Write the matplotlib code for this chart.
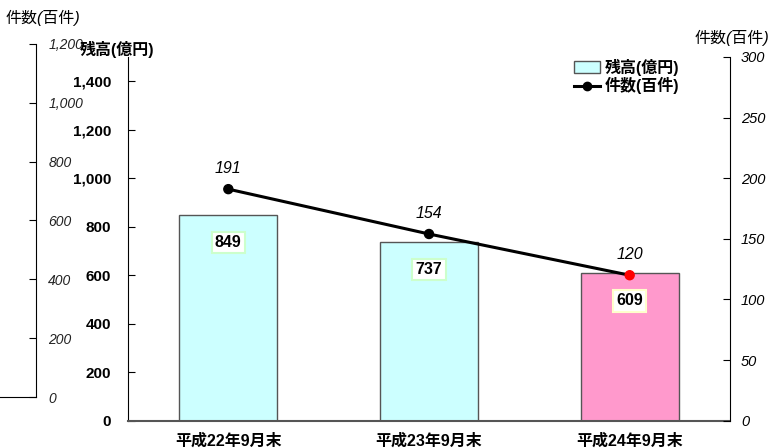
import matplotlib
matplotlib.use("Agg")
import matplotlib.pyplot as plt
from matplotlib.patches import Patch
from matplotlib.lines import Line2D
from matplotlib.ticker import FuncFormatter

plt.rcParams['font.family'] = ['Liberation Sans', 'Noto Sans CJK JP', 'DejaVu Sans']

categories = ['平成22年9月末', '平成23年9月末', '平成24年9月末']
balance = [849, 737, 609]          # 残高(億円)
counts = [191, 154, 120]           # 件数(百件)
bar_colors = ['#CCFFFF', '#CCFFFF', '#FF99CC']
box_edges = ['#CCFFCC', '#CCFFCC', '#FFFFCC']
point_colors = ['black', 'black', 'red']

W, H = 776, 448
fig = plt.figure(figsize=(W / 100, H / 100), dpi=100)

def fx(px):
    return px / W

def fy(py):
    return 1 - py / H

comma = FuncFormatter(lambda v, p: f'{v:,.0f}')

# main axes
ax = fig.add_axes([fx(128), fy(420.7), fx(730) - fx(128), fy(57) - fy(420.7)])
x = list(range(len(categories)))
ax.bar(x, balance, width=0.49, color=bar_colors, edgecolor='#555555', linewidth=1)
ax.set_xlim(-0.5, 2.5)
ax.set_ylim(0, 1500)
ax.set_yticks(range(0, 1401, 200))
ax.yaxis.set_major_formatter(comma)
ax.tick_params(axis='y', direction='in', length=5, pad=12, labelsize=11)
for t in ax.get_yticklabels():
    t.set_fontweight('bold')
ax.set_xticks(x)
ax.set_xticklabels(categories, fontweight='bold', fontsize=11.5)
ax.tick_params(axis='x', length=0, pad=9)
ax.spines['top'].set_visible(False)
ax.spines['right'].set_visible(False)
ax.spines['bottom'].set_color('#555555')
ax.spines['bottom'].set_linewidth(1.5)

for i, v in enumerate(balance):
    ax.annotate(f'{v}', (i, v), xytext=(0, -20), textcoords='offset points',
                ha='center', va='center', fontsize=11.5, fontweight='bold',
                bbox=dict(boxstyle='square,pad=0.2', facecolor='white',
                          edgecolor=box_edges[i], linewidth=1.5))

# count axis (right)
ax2 = ax.twinx()
ax2.set_ylim(0, 300)
ax2.set_yticks(range(0, 301, 50))
ax2.plot(x, counts, color='black', linewidth=2.2, zorder=3)
ax2.scatter(x, counts, color=point_colors, s=42, zorder=4)
for i, v in enumerate(counts):
    ax2.annotate(f'{v}', (i, v), xytext=(0, 15), textcoords='offset points',
                 ha='center', va='center', fontsize=11.5, style='italic')
ax2.tick_params(axis='y', direction='in', length=5, pad=8, labelsize=10.5)
for t in ax2.get_yticklabels():
    t.set_fontstyle('italic')
ax2.spines['top'].set_visible(False)
ax2.spines['left'].set_visible(False)
ax2.spines['bottom'].set_visible(False)

# outer count axis (left)
ax3 = fig.add_axes([0, fy(397), fx(35.7), fy(44) - fy(397)])
ax3.set_ylim(0, 1200)
ax3.set_yticks(range(0, 1201, 200))
ax3.yaxis.set_major_formatter(comma)
ax3.yaxis.tick_right()
ax3.set_xticks([])
ax3.tick_params(axis='y', direction='in', length=5, pad=9, labelsize=10, labelcolor='#222222')
for t in ax3.get_yticklabels():
    t.set_fontstyle('italic')
ax3.spines['top'].set_visible(False)
ax3.spines['left'].set_visible(False)
ax3.patch.set_visible(False)

# axis titles
fig.text(fx(6), fy(18), '件数(百件)', fontsize=11.5, style='italic', va='center', ha='left')
fig.text(fx(117), fy(49), '残高(億円)', fontsize=11.5, fontweight='bold', va='center', ha='center')
fig.text(fx(732), fy(38), '件数(百件)', fontsize=11.5, style='italic', va='center', ha='center')

handles = [Patch(facecolor='#CCFFFF', edgecolor='#555555'),
           Line2D([0], [0], color='black', linewidth=2.2, marker='o', markersize=6)]
fig.legend(handles, ['残高(億円)', '件数(百件)'], loc='upper left',
           bbox_to_anchor=(fx(568), fy(52)), frameon=False, handlelength=1.6,
           handletextpad=0.3, labelspacing=0.1, borderaxespad=0,
           prop={'weight': 'bold', 'size': 11.5})

fig.savefig('out.png', dpi=100)
